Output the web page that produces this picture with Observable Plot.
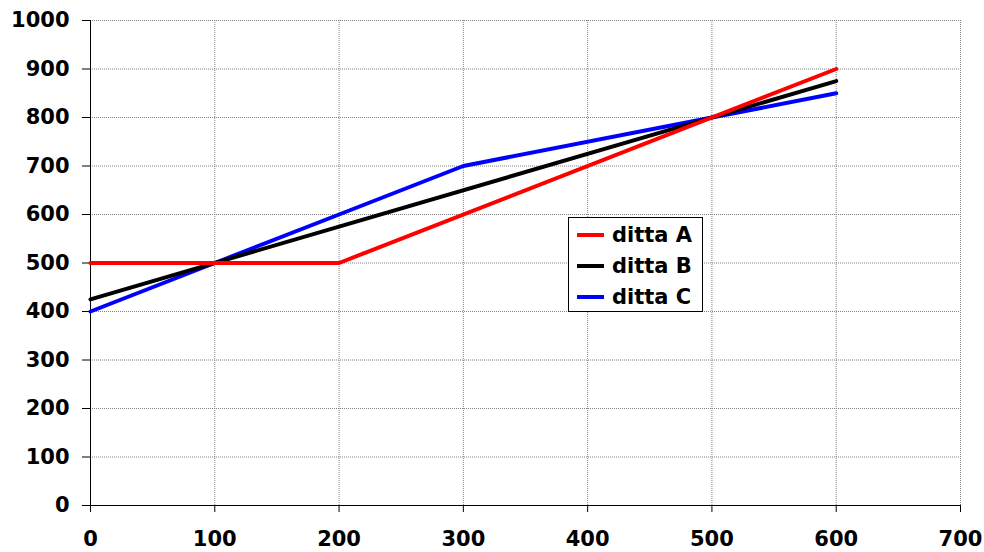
<!DOCTYPE html>
<html>
<head>
<meta charset="utf-8">
<script src="https://cdn.jsdelivr.net/npm/d3@7"></script>
<script src="https://cdn.jsdelivr.net/npm/@observablehq/plot@0.6"></script>
<style>
  body { margin: 0; background: #fff; }
  #wrap { position: relative; width: 984px; height: 552px; font-family: "DejaVu Sans", sans-serif; }
  #legend { position: absolute; left: 568px; top: 217px; width: 135px; height: 95px; border: 1px solid #000; background: #fff; box-sizing: border-box; }
  .row { position: absolute; left: 0; height: 30px; display: flex; align-items: center; font-weight: bold; font-size: 21px; color: #000; }
  .sw { width: 27px; height: 4px; margin-left: 8px; margin-right: 8px; }
</style>
</head>
<body>
<div id="wrap"></div>
<script>
const xValuesA = [0, 200, 600];
const seriesA = [500, 500, 900];
const xValuesB = [0, 600];
const seriesB = [425, 875];
const xValuesC = [0, 100, 200, 300, 500, 600];
const seriesC = [400, 500, 600, 700, 800, 850];
const seriesNames = ["ditta A", "ditta B", "ditta C"];
const seriesColors = ["#ff0000", "#000000", "#0000ff"];
const xTicks = [0, 100, 200, 300, 400, 500, 600, 700];
const yTicks = [0, 100, 200, 300, 400, 500, 600, 700, 800, 900, 1000];

const data = [
  ...xValuesA.map((x, i) => ({x, y: seriesA[i], s: seriesNames[0]})),
  ...xValuesB.map((x, i) => ({x, y: seriesB[i], s: seriesNames[1]})),
  ...xValuesC.map((x, i) => ({x, y: seriesC[i], s: seriesNames[2]}))
];

const chart = Plot.plot({
  width: 984,
  height: 552,
  marginLeft: 90,
  marginRight: 24,
  marginTop: 20,
  marginBottom: 47,
  style: { fontFamily: "DejaVu Sans, sans-serif", fontSize: "21px", fontWeight: "bold", color: "#000", background: "#fff" },
  x: { domain: [0, 700], ticks: xTicks, label: null },
  y: { domain: [0, 1000], ticks: yTicks, label: null },
  color: { domain: seriesNames, range: seriesColors },
  marks: [
    Plot.gridX(xTicks, { stroke: "#808080", strokeOpacity: 1, strokeDasharray: "1,1" }),
    Plot.gridY(yTicks, { stroke: "#808080", strokeOpacity: 1, strokeDasharray: "1,1" }),
    Plot.axisX({ ticks: xTicks, tickFormat: d => String(d), label: null, tickSize: 7, tickPadding: 19, stroke: "#000", fill: "#000", fontWeight: "bold", fontSize: 21 }),
    Plot.axisY({ ticks: yTicks, tickFormat: d => String(d), label: null, tickSize: 8, tickPadding: 13, stroke: "#000", fill: "#000", fontWeight: "bold", fontSize: 21 }),
    Plot.ruleX([0], { stroke: "#000" }),
    Plot.ruleY([0], { stroke: "#000" }),
    Plot.line(data.filter(d => d.s === seriesNames[2]), { x: "x", y: "y", stroke: "s", strokeWidth: 4 }),
    Plot.line(data.filter(d => d.s === seriesNames[1]), { x: "x", y: "y", stroke: "s", strokeWidth: 4 }),
    Plot.line(data.filter(d => d.s === seriesNames[0]), { x: "x", y: "y", stroke: "s", strokeWidth: 4 })
  ]
});

const wrap = document.getElementById("wrap");
wrap.appendChild(chart);

const legend = document.createElement("div");
legend.id = "legend";
seriesNames.forEach((name, i) => {
  const row = document.createElement("div");
  row.className = "row";
  row.style.top = (2 + i * 31) + "px";
  const sw = document.createElement("span");
  sw.className = "sw";
  sw.style.background = seriesColors[i];
  const t = document.createElement("span");
  t.textContent = name;
  row.appendChild(sw);
  row.appendChild(t);
  legend.appendChild(row);
});
wrap.appendChild(legend);
</script>
</body>
</html>
